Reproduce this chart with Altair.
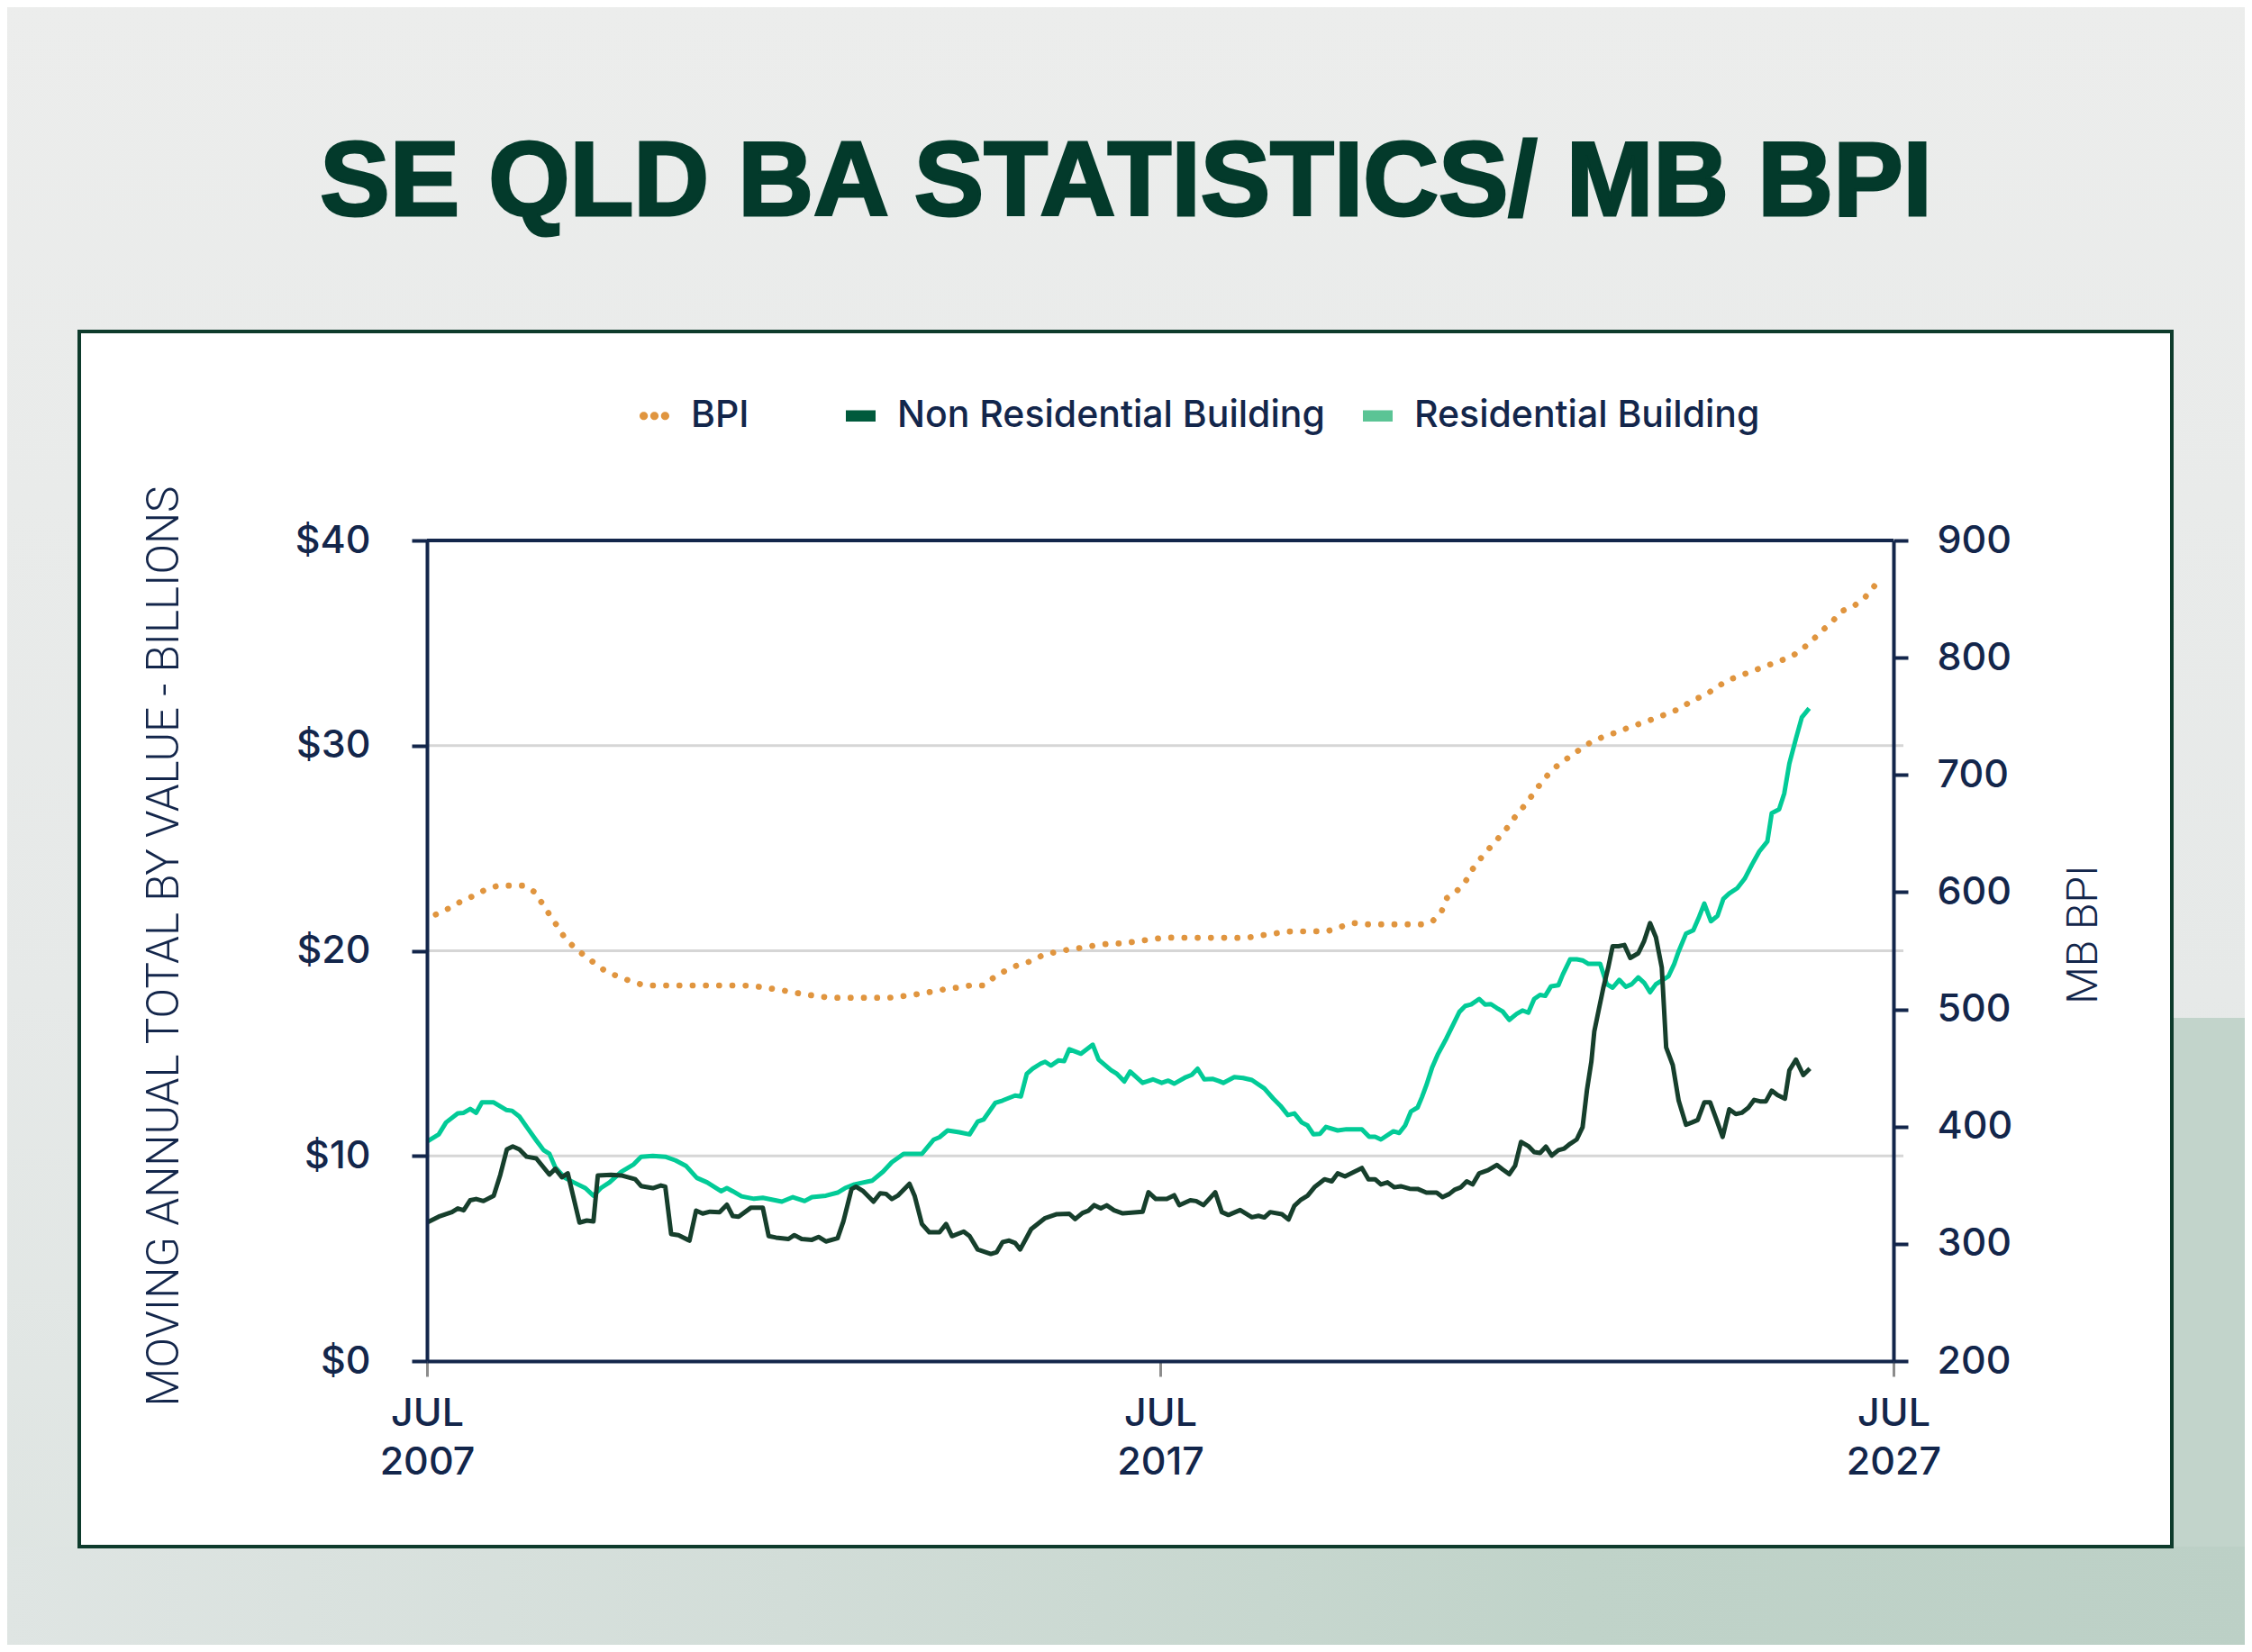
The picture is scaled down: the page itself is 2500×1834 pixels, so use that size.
import altair as alt
import pandas as pd

# ---------------- data ----------------
series_names = ["BPI", "Non Residential Building", "Residential Building"]

res_year = [2007.50, 2007.66, 2007.76, 2007.92, 2008.00, 2008.09, 2008.17, 2008.25, 2008.41, 2008.58,
            2008.66, 2008.76, 2008.86, 2008.99, 2009.09, 2009.17, 2009.25, 2009.38, 2009.50, 2009.66,
            2009.77, 2009.87, 2009.99, 2010.15, 2010.32, 2010.42, 2010.58, 2010.75, 2010.89, 2011.03,
            2011.18, 2011.32, 2011.51, 2011.59, 2011.67, 2011.79, 2011.96, 2012.08, 2012.34, 2012.49,
            2012.65, 2012.75, 2012.94, 2013.10, 2013.20, 2013.33, 2013.57, 2013.72, 2013.84, 2014.00,
            2014.25, 2014.41, 2014.49, 2014.60, 2014.76, 2014.90, 2015.01, 2015.09, 2015.25, 2015.35,
            2015.52, 2015.60, 2015.68, 2015.76, 2015.87, 2015.93, 2016.01, 2016.11, 2016.19, 2016.26,
            2016.42, 2016.58, 2016.66, 2016.83, 2016.91, 2017.01, 2017.09, 2017.26, 2017.40, 2017.52,
            2017.61, 2017.69, 2017.85, 2017.93, 2018.01, 2018.10, 2018.22, 2018.30, 2018.36, 2018.51,
            2018.63, 2018.75, 2018.92, 2019.04, 2019.14, 2019.24, 2019.33, 2019.43, 2019.51, 2019.59,
            2019.68, 2019.76, 2019.92, 2020.04, 2020.25, 2020.35, 2020.43, 2020.51, 2020.68, 2020.76,
            2020.84, 2020.92, 2021.01, 2021.07, 2021.13, 2021.21, 2021.29, 2021.40, 2021.50, 2021.58,
            2021.66, 2021.74, 2021.85, 2021.93, 2022.01, 2022.09, 2022.17, 2022.26, 2022.36, 2022.44,
            2022.52, 2022.60, 2022.68, 2022.75, 2022.83, 2022.93, 2022.99, 2023.09, 2023.18, 2023.26,
            2023.34, 2023.50, 2023.59, 2023.67, 2023.76, 2023.85, 2023.93, 2024.02, 2024.10, 2024.18,
            2024.26, 2024.34, 2024.43, 2024.51, 2024.57, 2024.67, 2024.77, 2024.85, 2024.92, 2025.01,
            2025.10, 2025.18, 2025.26, 2025.37, 2025.47, 2025.57, 2025.67, 2025.78, 2025.84, 2025.94,
            2026.01, 2026.08, 2026.17, 2026.25, 2026.35]
res_value = [10.70, 11.05, 11.63, 12.07, 12.10, 12.29, 12.10, 12.61, 12.61, 12.24,
             12.20, 11.92, 11.41, 10.76, 10.28, 10.10, 9.44, 8.93, 8.71, 8.43,
             8.06, 8.43, 8.71, 9.23, 9.59, 9.96, 10.00, 9.96, 9.78, 9.52,
             8.93, 8.71, 8.28, 8.43, 8.28, 8.03, 7.91, 7.96, 7.77, 7.99,
             7.80, 7.99, 8.06, 8.21, 8.43, 8.61, 8.79, 9.23, 9.69, 10.10,
             10.10, 10.79, 10.91, 11.24, 11.15, 11.05, 11.67, 11.77, 12.58, 12.70,
             12.94, 12.90, 14.00, 14.25, 14.50, 14.59, 14.40, 14.65, 14.62, 15.20,
             14.98, 15.42, 14.69, 14.18, 14.00, 13.63, 14.11, 13.56, 13.73, 13.56,
             13.67, 13.52, 13.84, 13.95, 14.25, 13.73, 13.75, 13.65, 13.56, 13.84,
             13.80, 13.70, 13.29, 12.80, 12.44, 11.99, 12.07, 11.63, 11.48, 11.05,
             11.08, 11.41, 11.24, 11.30, 11.30, 10.93, 10.93, 10.80, 11.20, 11.12,
             11.48, 12.17, 12.36, 12.87, 13.45, 14.33, 14.98, 15.71, 16.44, 17.02,
             17.31, 17.38, 17.65, 17.38, 17.40, 17.21, 17.04, 16.63, 16.92, 17.09,
             16.98, 17.65, 17.85, 17.80, 18.27, 18.32, 18.84, 19.58, 19.58, 19.53,
             19.36, 19.36, 18.37, 18.20, 18.58, 18.24, 18.37, 18.70, 18.44, 17.98,
             18.37, 18.55, 18.75, 19.36, 19.97, 20.83, 21.00, 21.66, 22.30, 21.44,
             21.70, 22.53, 22.79, 23.05, 23.51, 24.20, 24.84, 25.33, 26.71, 26.89,
             27.66, 29.13, 30.35, 31.38, 31.82]

nonres_year = [2007.50, 2007.66, 2007.84, 2007.92, 2008.00, 2008.09, 2008.17, 2008.27, 2008.41, 2008.50,
               2008.59, 2008.67, 2008.76, 2008.86, 2008.99, 2009.17, 2009.25, 2009.34, 2009.42, 2009.58,
               2009.68, 2009.77, 2009.83, 2010.01, 2010.15, 2010.34, 2010.42, 2010.58, 2010.69, 2010.75,
               2010.83, 2010.93, 2011.08, 2011.17, 2011.26, 2011.36, 2011.49, 2011.59, 2011.67, 2011.75,
               2011.92, 2012.08, 2012.16, 2012.26, 2012.43, 2012.51, 2012.61, 2012.75, 2012.84, 2012.94,
               2013.10, 2013.18, 2013.29, 2013.35, 2013.45, 2013.59, 2013.68, 2013.76, 2013.84, 2013.92,
               2014.08, 2014.15, 2014.25, 2014.35, 2014.49, 2014.58, 2014.66, 2014.82, 2014.90, 2015.01,
               2015.19, 2015.27, 2015.35, 2015.44, 2015.52, 2015.59, 2015.74, 2015.93, 2016.09, 2016.26,
               2016.34, 2016.44, 2016.52, 2016.60, 2016.69, 2016.77, 2016.87, 2016.99, 2017.26, 2017.34,
               2017.44, 2017.59, 2017.69, 2017.76, 2017.91, 2017.99, 2018.09, 2018.17, 2018.25, 2018.34,
               2018.43, 2018.59, 2018.75, 2018.84, 2018.92, 2019.00, 2019.16, 2019.25, 2019.33, 2019.41,
               2019.51, 2019.61, 2019.74, 2019.84, 2019.92, 2020.02, 2020.15, 2020.25, 2020.34, 2020.43,
               2020.51, 2020.60, 2020.69, 2020.78, 2020.90, 2021.01, 2021.13, 2021.27, 2021.35, 2021.44,
               2021.52, 2021.60, 2021.68, 2021.76, 2021.85, 2021.97, 2022.09, 2022.17, 2022.26, 2022.34,
               2022.42, 2022.52, 2022.60, 2022.68, 2022.76, 2022.84, 2022.93, 2023.01, 2023.09, 2023.18,
               2023.26, 2023.32, 2023.38, 2023.42, 2023.48, 2023.54, 2023.61, 2023.67, 2023.75, 2023.83,
               2023.91, 2024.02, 2024.10, 2024.18, 2024.26, 2024.34, 2024.40, 2024.49, 2024.57, 2024.67,
               2024.75, 2024.83, 2024.92, 2025.00, 2025.08, 2025.17, 2025.26, 2025.35, 2025.43, 2025.52,
               2025.60, 2025.68, 2025.76, 2025.84, 2025.92, 2026.02, 2026.08, 2026.17, 2026.27, 2026.36]
nonres_value = [6.75, 7.04, 7.26, 7.44, 7.35, 7.84, 7.90, 7.80, 8.06, 9.08,
                10.32, 10.46, 10.32, 9.96, 9.88, 9.09, 9.37, 8.96, 9.15, 6.75,
                6.85, 6.81, 9.05, 9.08, 9.05, 8.86, 8.53, 8.43, 8.56, 8.50,
                6.19, 6.14, 5.87, 7.33, 7.19, 7.28, 7.26, 7.62, 7.07, 7.04,
                7.48, 7.48, 6.09, 6.02, 5.95, 6.14, 5.95, 5.91, 6.05, 5.83,
                5.99, 6.82, 8.38, 8.50, 8.28, 7.77, 8.18, 8.15, 7.90, 8.06,
                8.64, 8.06, 6.68, 6.28, 6.28, 6.68, 6.09, 6.31, 6.09, 5.44,
                5.22, 5.31, 5.80, 5.87, 5.76, 5.44, 6.43, 6.97, 7.16, 7.18,
                6.92, 7.22, 7.33, 7.60, 7.44, 7.59, 7.35, 7.20, 7.28, 8.23,
                7.90, 7.90, 8.08, 7.60, 7.84, 7.80, 7.60, 7.91, 8.23, 7.26,
                7.12, 7.36, 7.01, 7.08, 7.00, 7.26, 7.16, 6.90, 7.57, 7.84,
                8.06, 8.50, 8.86, 8.76, 9.15, 9.00, 9.23, 9.41, 8.86, 8.86,
                8.61, 8.71, 8.47, 8.52, 8.40, 8.39, 8.21, 8.21, 7.99, 8.14,
                8.36, 8.47, 8.76, 8.61, 9.15, 9.30, 9.56, 9.34, 9.11, 9.52,
                10.68, 10.48, 10.19, 10.14, 10.45, 10.02, 10.28, 10.36, 10.59, 10.80,
                11.40, 13.22, 14.60, 16.07, 17.11, 18.15, 19.19, 20.22, 20.22, 20.28,
                19.65, 19.88, 20.48, 21.35, 20.66, 19.19, 15.29, 14.43, 12.70, 11.52,
                11.63, 11.75, 12.61, 12.61, 11.83, 10.93, 12.27, 12.04, 12.10, 12.35,
                12.73, 12.66, 12.66, 13.18, 12.96, 12.79, 14.17, 14.69, 13.94, 14.26]

bpi_year = [2007.62, 2007.79, 2007.95, 2008.13, 2008.29, 2008.47, 2008.83, 2008.97, 2009.07, 2009.17,
            2009.28, 2009.38, 2009.51, 2009.65, 2009.80, 2009.95, 2010.12, 2010.30, 2010.47, 2011.77,
            2011.95, 2012.14, 2012.32, 2012.51, 2012.69, 2012.88, 2013.06, 2013.80, 2013.99, 2014.18,
            2014.36, 2014.54, 2014.73, 2014.91, 2015.10, 2015.24, 2015.40, 2015.57, 2015.75, 2015.91,
            2016.09, 2016.27, 2016.46, 2016.64, 2016.82, 2017.01, 2017.19, 2017.38, 2017.56, 2018.68,
            2018.86, 2019.04, 2019.23, 2019.78, 2019.96, 2020.13, 2020.31, 2021.06, 2021.22, 2021.34,
            2021.41, 2021.55, 2021.67, 2021.76, 2021.87, 2021.99, 2022.11, 2022.23, 2022.34, 2022.46,
            2022.57, 2022.68, 2022.80, 2022.93, 2023.08, 2023.23, 2023.39, 2023.56, 2023.74, 2023.91,
            2024.09, 2024.26, 2024.43, 2024.60, 2024.76, 2024.93, 2025.08, 2025.24, 2025.41, 2025.59,
            2025.76, 2025.94, 2026.11, 2026.26, 2026.40, 2026.53, 2026.67, 2026.79, 2026.95, 2027.09,
            2027.21, 2027.32]
bpi_value = [580.9, 585.9, 591.6, 596.7, 601.8, 605.6, 605.6, 600.0, 590.6, 580.9,
             570.7, 561.0, 552.8, 545.7, 538.8, 531.9, 527.8, 523.5, 520.4, 520.4,
             520.0, 518.2, 516.6, 514.3, 512.5, 510.7, 509.9, 509.9, 511.3, 512.9,
             514.8, 516.9, 518.6, 520.4, 520.4, 527.8, 533.4, 538.1, 541.3, 546.7,
             549.0, 551.3, 552.8, 554.9, 556.1, 556.3, 558.2, 559.7, 561.2, 561.0,
             563.0, 564.5, 566.4, 566.7, 570.4, 573.7, 572.5, 572.5, 575.6, 584.0,
             595.0, 601.3, 609.8, 619.6, 628.7, 637.5, 646.0, 654.8, 664.3, 673.3,
             682.4, 691.9, 701.1, 708.7, 715.3, 722.0, 728.6, 732.9, 736.7, 740.9,
             744.7, 748.5, 752.6, 756.9, 763.8, 767.9, 774.5, 780.7, 784.7, 788.8,
             792.9, 797.0, 801.0, 807.5, 815.3, 823.2, 831.2, 839.6, 843.7, 849.8,
             858.7, 867.6]

x_ticks = [2007.5, 2017.5, 2027.5]
y_ticks = [0, 10, 20, 30, 40]
grid_values = [10, 20, 30]
bpi_ticks = [200, 300, 400, 500, 600, 700, 800, 900]

# ---------------- styling ----------------
W, H = 1628, 911
NAVY = "#13264b"
FRAME = "#0e3b2c"
TITLE_GREEN = "#033a2b"
ORANGE = "#e0953f"
RES_GREEN = "#02cb97"
NONRES_GREEN = "#163f2c"
legend_colors = [ORANGE, "#005a3c", "#5bc495"]
DOTS = ("M-1,0a0.28,0.28 0 1,0 0.56,0a0.28,0.28 0 1,0 -0.56,0"
        "M-0.28,0a0.28,0.28 0 1,0 0.56,0a0.28,0.28 0 1,0 -0.56,0"
        "M0.44,0a0.28,0.28 0 1,0 0.56,0a0.28,0.28 0 1,0 -0.56,0")
BAR = "M-1,-0.38H1V0.38H-1Z"
legend_shapes = [DOTS, BAR, BAR]

res_df = pd.DataFrame({"year": res_year, "value": res_value})
nonres_df = pd.DataFrame({"year": nonres_year, "value": nonres_value})
bpi_df = pd.DataFrame({"year": bpi_year, "value": bpi_value})
grid_df = pd.DataFrame({"value": grid_values})
legend_df = pd.DataFrame({"series": series_names})
one = pd.DataFrame({"k": [0]})

x_axis = alt.Axis(values=x_ticks, labelExpr="['JUL', '' + floor(datum.value)]", title=None,
                  labelFont="Inter", labelFontSize=43, labelFontWeight=500, labelColor=NAVY,
                  labelLineHeight=54, labelPadding=20, labelFlush=False, labelOverlap=False,
                  tickSize=17, tickWidth=3, tickColor="#8c8c8c", domainColor=NAVY, domainWidth=4,
                  grid=False, zindex=1)
x_enc = alt.X("year:Q", scale=alt.Scale(domain=[2007.5, 2027.5], nice=False, zero=False), axis=x_axis)

left_axis = alt.Axis(values=y_ticks, labelExpr="'$' + datum.value", grid=False, orient="left",
                     title="MOVING ANNUAL TOTAL BY VALUE - BILLIONS", titleX=-277, titleY=450,
                     titleAngle=270, titleAlign="center", titleBaseline="alphabetic",
                     titleFont="Roboto", titleFontWeight=300, titleFontSize=49.5, titleColor=NAVY,
                     labelFont="Inter", labelFontSize=43, labelFontWeight=500, labelColor=NAVY,
                     labelPadding=46, labelOverlap=False, tickSize=17, tickWidth=4, tickColor=NAVY,
                     domainColor=NAVY, domainWidth=4, zindex=1)
y_scale = alt.Scale(domain=[0, 40], nice=False)

right_axis = alt.Axis(values=bpi_ticks, grid=False, orient="right",
                      title="MB BPI", titleX=225, titleY=437,
                      titleAngle=270, titleAlign="center", titleBaseline="alphabetic",
                      titleFont="Roboto", titleFontWeight=300, titleFontSize=48, titleColor=NAVY,
                      labelFont="Inter", labelFontSize=43, labelFontWeight=500, labelColor=NAVY,
                      labelPadding=32, labelOverlap=False, tickSize=16, tickWidth=4, tickColor=NAVY,
                      domainColor=NAVY, domainWidth=4, zindex=1)
bpi_scale = alt.Scale(domain=[200, 900], nice=False, zero=False)

# ---------------- decoration ----------------
bg = alt.Chart(one).mark_rect(
    color=alt.LinearGradient(gradient="linear", x1=0, y1=0, x2=0, y2=1,
                             stops=[alt.GradientStop(color="#ecedec", offset=0),
                                    alt.GradientStop(color="#e6e9e8", offset=0.6),
                                    alt.GradientStop(color="#dde4e1", offset=1)])
).encode(x=alt.value(-470), x2=alt.value(2030), y=alt.value(-600), y2=alt.value(1240))

bg_right = alt.Chart(one).mark_rect(color="#c2d4cb").encode(
    x=alt.value(1937), x2=alt.value(2030), y=alt.value(530), y2=alt.value(1240))

bg_bottom = alt.Chart(one).mark_rect(
    color=alt.LinearGradient(gradient="linear", x1=0, y1=0, x2=1, y2=0,
                             stops=[alt.GradientStop(color="#dfe5e3", offset=0),
                                    alt.GradientStop(color="#d2ddd8", offset=0.35),
                                    alt.GradientStop(color="#c0d3c9", offset=0.7),
                                    alt.GradientStop(color="#bcd0c6", offset=1)])
).encode(x=alt.value(-470), x2=alt.value(2030), y=alt.value(1117), y2=alt.value(1240))

frame = alt.Chart(one).mark_rect(fill="white", stroke=FRAME, strokeWidth=4).encode(
    x=alt.value(-386), x2=alt.value(1937), y=alt.value(-232), y2=alt.value(1117))

title = alt.Chart(one).mark_text(
    text="SE QLD BA STATISTICS/ MB BPI", font="Liberation Sans", fontWeight="bold",
    fontSize=116, color=TITLE_GREEN, stroke=TITLE_GREEN, strokeWidth=3,
    align="center", baseline="alphabetic"
).encode(x=alt.value(776), y=alt.value(-361))

top_line = alt.Chart(one).mark_rule(color=NAVY, strokeWidth=4).encode(
    x=alt.value(0), x2=alt.value(W), y=alt.value(0))

# ---------------- data layers ----------------
grid = alt.Chart(grid_df).mark_rule(color="#d6d6d6", strokeWidth=3).encode(
    y=alt.Y("value:Q", scale=y_scale, axis=left_axis), x=alt.value(0), x2=alt.value(W + 11))

res_line = alt.Chart(res_df).mark_line(color=RES_GREEN, strokeWidth=5, strokeJoin="round").encode(
    x=x_enc, y=alt.Y("value:Q", scale=y_scale, axis=left_axis))

nonres_line = alt.Chart(nonres_df).mark_line(color=NONRES_GREEN, strokeWidth=5, strokeJoin="round").encode(
    x=x_enc, y=alt.Y("value:Q", scale=y_scale, axis=left_axis))

bpi_line = alt.Chart(bpi_df).mark_line(color=ORANGE, strokeWidth=6.7, strokeDash=[0.1, 14.6],
                                       strokeCap="round").encode(
    x=x_enc, y=alt.Y("value:Q", scale=bpi_scale, axis=right_axis))

legend = alt.Legend(orient="none", legendX=232, legendY=-159, direction="horizontal", title=None,
                    symbolOpacity=1, symbolSize=1089, symbolStrokeWidth=0,
                    labelFont="Inter", labelFontSize=41, labelFontWeight=500, labelColor=NAVY,
                    labelOffset=20, columnPadding=38, padding=0, labelLimit=1000,
                    labelExpr="datum.label == 'BPI' ? 'BPI" + "\u00a0" * 6 + "\u200b' : datum.label")

legend_pts = alt.Chart(legend_df).mark_point(filled=True, opacity=0).encode(
    color=alt.Color("series:N", scale=alt.Scale(domain=series_names, range=legend_colors), legend=legend),
    shape=alt.Shape("series:N", scale=alt.Scale(domain=series_names, range=legend_shapes), legend=legend))

dollars = alt.layer(grid, res_line, nonres_line)

chart = alt.layer(bg, bg_right, bg_bottom, frame, title, dollars, bpi_line, top_line, legend_pts).resolve_scale(
    y="independent"
).properties(
    width=W, height=H,
    padding={"left": 466, "top": 592, "right": 390, "bottom": 315},
    autosize=alt.AutoSizeParams(type="none"),
    background="#e9eaea",
).configure_view(strokeWidth=0)

chart.save("out.html", embed_options={"renderer": "svg", "actions": False})
